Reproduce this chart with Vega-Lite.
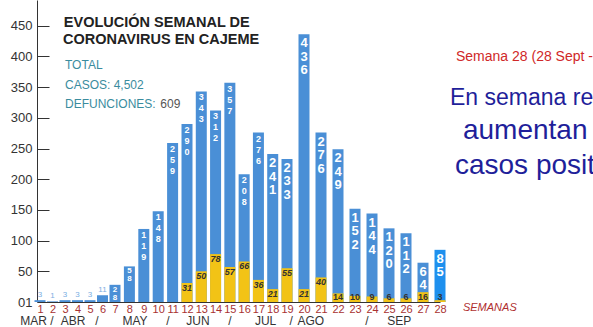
{
  "$schema": "https://vega.github.io/schema/vega-lite/v6.json",
  "width": 423,
  "height": 302,
  "autosize": "none",
  "padding": {"left": 37, "top": 0, "right": 133, "bottom": 25},
  "background": "white",
  "config": {
    "view": {"stroke": null},
    "font": "Liberation Sans",
    "axisX": {
      "grid": false, "ticks": false, "labelPadding": 1, "labelFontSize": 11,
      "labelColor": "#a83232", "domainColor": "#333333", "labelFlush": false,
      "labelOverlap": false, "labelBound": false, "tickCount": 28
    },
    "axisY": {
      "grid": false, "labelExpr": "datum.value==0?'01':datum.label",
      "labelFontSize": 13, "labelColor": "#333333", "tickSize": -12,
      "tickColor": "#333333", "domainColor": "#333333", "labelPadding": 17,
      "labelOverlap": false, "tickCount": 10
    }
  },
  "datasets": {
    "weeks": [
      {"week": 1, "cases": 3, "deaths": 0},
      {"week": 2, "cases": 1, "deaths": 0},
      {"week": 3, "cases": 3, "deaths": 0},
      {"week": 4, "cases": 3, "deaths": 0},
      {"week": 5, "cases": 3, "deaths": 0},
      {"week": 6, "cases": 11, "deaths": 0},
      {"week": 7, "cases": 28, "deaths": 0},
      {"week": 8, "cases": 58, "deaths": 0},
      {"week": 9, "cases": 119, "deaths": 0},
      {"week": 10, "cases": 148, "deaths": 0},
      {"week": 11, "cases": 259, "deaths": 0},
      {"week": 12, "cases": 290, "deaths": 31},
      {"week": 13, "cases": 343, "deaths": 50},
      {"week": 14, "cases": 312, "deaths": 78},
      {"week": 15, "cases": 357, "deaths": 57},
      {"week": 16, "cases": 208, "deaths": 66},
      {"week": 17, "cases": 276, "deaths": 36},
      {"week": 18, "cases": 241, "deaths": 21},
      {"week": 19, "cases": 233, "deaths": 55},
      {"week": 20, "cases": 436, "deaths": 21},
      {"week": 21, "cases": 276, "deaths": 40},
      {"week": 22, "cases": 249, "deaths": 14},
      {"week": 23, "cases": 152, "deaths": 10},
      {"week": 24, "cases": 144, "deaths": 9},
      {"week": 25, "cases": 120, "deaths": 6},
      {"week": 26, "cases": 112, "deaths": 6},
      {"week": 27, "cases": 64, "deaths": 16},
      {"week": 28, "cases": 85, "deaths": 3}
    ],
    "notes": [
      {"kind": "title", "text": "EVOLUCIÓN SEMANAL DE", "week": 9.9, "value": 454},
      {"kind": "title", "text": "CORONAVIRUS EN CAJEME", "week": 10.2, "value": 427},
      {"kind": "total", "text": "TOTAL", "week": 3.0, "value": 386},
      {"kind": "total", "text": "CASOS: 4,502", "week": 3.0, "value": 354},
      {"kind": "total", "text": "DEFUNCIONES:", "week": 3.0, "value": 322},
      {"kind": "num", "text": "609", "week": 10.15, "value": 322},
      {"kind": "date", "text": "Semana 28 (28 Sept -", "week": 28.94, "value": 399},
      {"kind": "headline", "text": "En semana re", "week": 28.59, "value": 332},
      {"kind": "headline2", "text": "aumentan", "week": 29.35, "value": 279},
      {"kind": "headline2", "text": "casos posit", "week": 28.88, "value": 222},
      {"kind": "semanas", "text": "SEMANAS", "week": 29.35, "value": -10},
      {"kind": "month", "text": "MAR /", "week": 0.76, "value": -37.5},
      {"kind": "month", "text": "ABR", "week": 3.64, "value": -37.5},
      {"kind": "month", "text": "/", "week": 5.56, "value": -37.5},
      {"kind": "month", "text": "MAY", "week": 8.39, "value": -37.5},
      {"kind": "month", "text": "/", "week": 10.68, "value": -37.5},
      {"kind": "month", "text": "JUN", "week": 12.77, "value": -37.5},
      {"kind": "month", "text": "/", "week": 15.0, "value": -37.5},
      {"kind": "month", "text": "JUL", "week": 17.5, "value": -37.5},
      {"kind": "month", "text": "/", "week": 19.25, "value": -37.5},
      {"kind": "month", "text": "AGO", "week": 20.4, "value": -37.5},
      {"kind": "month", "text": "/", "week": 23.7, "value": -37.5},
      {"kind": "month", "text": "SEP", "week": 25.6, "value": -37.5}
    ]
  },
  "layer": [
    {
      "data": {"name": "weeks"},
      "mark": {"type": "bar", "size": 11},
      "encoding": {
        "x": {
          "field": "week", "type": "quantitative", "title": null,
          "scale": {"domain": [1, 7, 12, 19, 28], "range": [3, 78, 150, 250, 403], "zero": false, "nice": false, "padding": 0}
        },
        "y": {
          "field": "cases", "type": "quantitative", "title": null,
          "scale": {"domain": [0, 492], "nice": false, "zero": true}
        },
        "color": {"condition": {"test": "datum.week==28", "value": "#1e90ee"}, "value": "#4a8fd6"}
      }
    },
    {
      "data": {"name": "weeks"},
      "transform": [{"filter": "datum.deaths>0"}],
      "mark": {"type": "bar", "size": 11, "color": "#f2c316"},
      "encoding": {
        "x": {"field": "week", "type": "quantitative", "title": null},
        "y": {"field": "deaths", "type": "quantitative", "title": null}
      }
    },
    {
      "data": {"name": "weeks"},
      "transform": [
        {"filter": "datum.week>=7 && datum.week<9"},
        {"calculate": "split(toString(datum.cases),'')", "as": "digits"}
      ],
      "mark": {"type": "text", "baseline": "top", "dy": 1, "fontSize": 8, "lineHeight": 8, "fontWeight": "bold", "color": "white"},
      "encoding": {
        "x": {"field": "week", "type": "quantitative", "title": null},
        "y": {"field": "cases", "type": "quantitative", "title": null},
        "text": {"field": "digits", "type": "nominal"}
      }
    },
    {
      "data": {"name": "weeks"},
      "transform": [
        {"filter": "datum.week>=9 && datum.week<18"},
        {"calculate": "split(toString(datum.cases),'')", "as": "digits"}
      ],
      "mark": {"type": "text", "baseline": "top", "dy": 2, "fontSize": 9, "lineHeight": 11, "fontWeight": "bold", "color": "white"},
      "encoding": {
        "x": {"field": "week", "type": "quantitative", "title": null},
        "y": {"field": "cases", "type": "quantitative", "title": null},
        "text": {"field": "digits", "type": "nominal"}
      }
    },
    {
      "data": {"name": "weeks"},
      "transform": [
        {"filter": "datum.week>=18"},
        {"calculate": "split(toString(datum.cases),'')", "as": "digits"}
      ],
      "mark": {"type": "text", "baseline": "top", "dy": 3, "fontSize": 13, "lineHeight": 13.5, "fontWeight": "bold", "color": "white"},
      "encoding": {
        "x": {"field": "week", "type": "quantitative", "title": null},
        "y": {"field": "cases", "type": "quantitative", "title": null},
        "text": {"field": "digits", "type": "nominal"}
      }
    },
    {
      "data": {"name": "weeks"},
      "transform": [{"filter": "datum.week<7"}],
      "mark": {"type": "text", "baseline": "bottom", "dy": -1, "fontSize": 8, "color": "#7aaee2"},
      "encoding": {
        "x": {"field": "week", "type": "quantitative", "title": null},
        "y": {"field": "cases", "type": "quantitative", "title": null},
        "text": {"field": "cases", "type": "quantitative"}
      }
    },
    {
      "data": {"name": "weeks"},
      "transform": [{"filter": "datum.deaths>=20"}],
      "mark": {"type": "text", "baseline": "top", "dy": 1, "fontSize": 9, "fontWeight": "bold", "fontStyle": "italic", "color": "#333333"},
      "encoding": {
        "x": {"field": "week", "type": "quantitative", "title": null},
        "y": {"field": "deaths", "type": "quantitative", "title": null},
        "text": {"field": "deaths", "type": "quantitative"}
      }
    },
    {
      "data": {"name": "weeks"},
      "transform": [{"filter": "datum.deaths>0 && datum.deaths<20"}],
      "mark": {"type": "text", "baseline": "bottom", "dy": 0, "fontSize": 9, "fontWeight": "bold", "color": "#333333"},
      "encoding": {
        "x": {"field": "week", "type": "quantitative", "title": null},
        "y": {"datum": 0},
        "text": {"field": "deaths", "type": "quantitative"}
      }
    },
    {
      "data": {"name": "notes"},
      "transform": [{"filter": "datum.kind=='title'"}],
      "mark": {"type": "text", "baseline": "middle", "align": "center", "fontSize": 14.5, "fontWeight": "bold", "color": "#222222"},
      "encoding": {
        "x": {"field": "week", "type": "quantitative", "title": null},
        "y": {"field": "value", "type": "quantitative", "title": null},
        "text": {"field": "text", "type": "nominal"}
      }
    },
    {
      "data": {"name": "notes"},
      "transform": [{"filter": "datum.kind=='total'"}],
      "mark": {"type": "text", "baseline": "middle", "align": "left", "fontSize": 12, "color": "#3a8c9e"},
      "encoding": {
        "x": {"field": "week", "type": "quantitative", "title": null},
        "y": {"field": "value", "type": "quantitative", "title": null},
        "text": {"field": "text", "type": "nominal"}
      }
    },
    {
      "data": {"name": "notes"},
      "transform": [{"filter": "datum.kind=='num'"}],
      "mark": {"type": "text", "baseline": "middle", "align": "left", "fontSize": 12, "color": "#555555"},
      "encoding": {
        "x": {"field": "week", "type": "quantitative", "title": null},
        "y": {"field": "value", "type": "quantitative", "title": null},
        "text": {"field": "text", "type": "nominal"}
      }
    },
    {
      "data": {"name": "notes"},
      "transform": [{"filter": "datum.kind=='date'"}],
      "mark": {"type": "text", "baseline": "middle", "align": "left", "fontSize": 14, "color": "#d02828"},
      "encoding": {
        "x": {"field": "week", "type": "quantitative", "title": null},
        "y": {"field": "value", "type": "quantitative", "title": null},
        "text": {"field": "text", "type": "nominal"}
      }
    },
    {
      "data": {"name": "notes"},
      "transform": [{"filter": "datum.kind=='headline'"}],
      "mark": {"type": "text", "baseline": "middle", "align": "left", "fontSize": 23, "color": "#1f1f9a"},
      "encoding": {
        "x": {"field": "week", "type": "quantitative", "title": null},
        "y": {"field": "value", "type": "quantitative", "title": null},
        "text": {"field": "text", "type": "nominal"}
      }
    },
    {
      "data": {"name": "notes"},
      "transform": [{"filter": "datum.kind=='headline2'"}],
      "mark": {"type": "text", "baseline": "middle", "align": "left", "fontSize": 28, "color": "#1f1f9a"},
      "encoding": {
        "x": {"field": "week", "type": "quantitative", "title": null},
        "y": {"field": "value", "type": "quantitative", "title": null},
        "text": {"field": "text", "type": "nominal"}
      }
    },
    {
      "data": {"name": "notes"},
      "transform": [{"filter": "datum.kind=='semanas'"}],
      "mark": {"type": "text", "baseline": "middle", "align": "left", "fontSize": 11, "fontStyle": "italic", "color": "#b03030"},
      "encoding": {
        "x": {"field": "week", "type": "quantitative", "title": null},
        "y": {"field": "value", "type": "quantitative", "title": null},
        "text": {"field": "text", "type": "nominal"}
      }
    },
    {
      "data": {"name": "notes"},
      "transform": [{"filter": "datum.kind=='month'"}],
      "mark": {"type": "text", "baseline": "alphabetic", "align": "center", "fontSize": 12, "color": "#333333"},
      "encoding": {
        "x": {"field": "week", "type": "quantitative", "title": null},
        "y": {"field": "value", "type": "quantitative", "title": null},
        "text": {"field": "text", "type": "nominal"}
      }
    }
  ]
}
